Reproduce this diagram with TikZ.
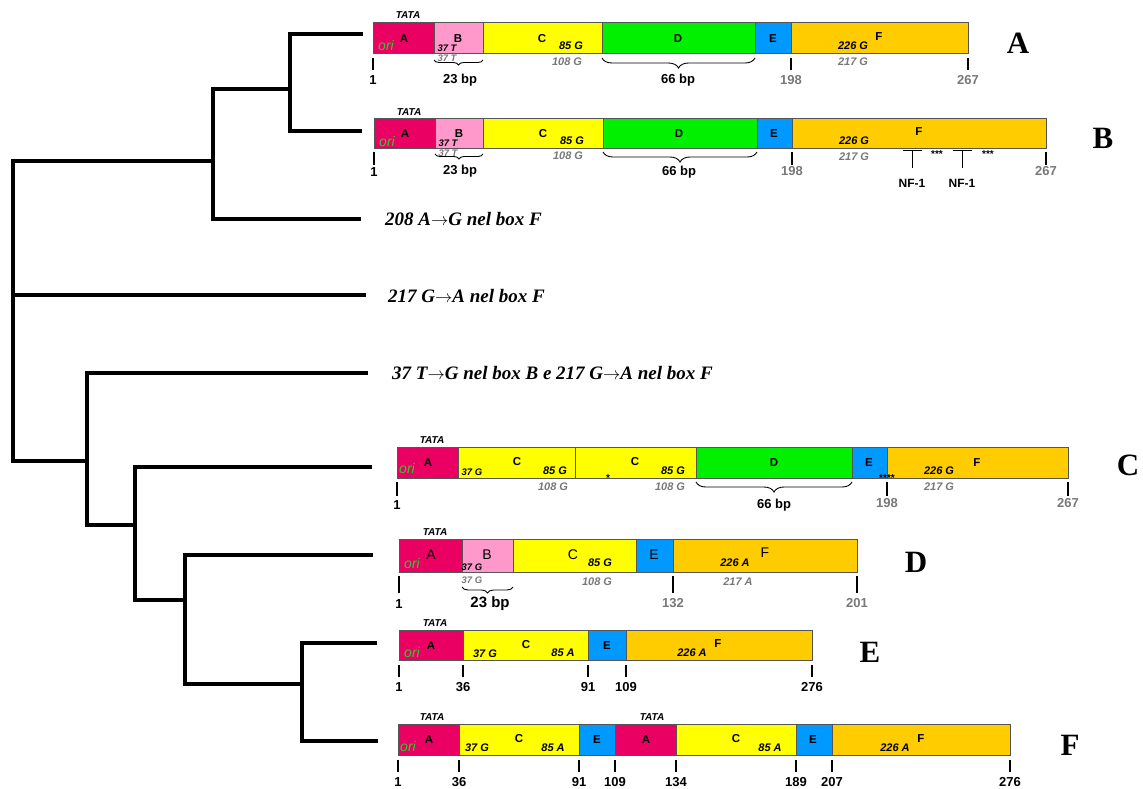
\documentclass[tikz,border=0pt]{standalone}
\usepackage{fontspec}
\setmainfont{Liberation Serif}
\newfontfamily\ar{Liberation Sans}
\usetikzlibrary{decorations.pathreplacing}
\definecolor{cA}{RGB}{234,0,98}
\definecolor{cB}{RGB}{255,153,204}
\definecolor{cC}{RGB}{255,255,0}
\definecolor{cD}{RGB}{0,240,0}
\definecolor{cE}{RGB}{0,153,255}
\definecolor{cF}{RGB}{255,204,0}
\definecolor{cori}{RGB}{45,205,45}
\definecolor{cgrey}{RGB}{120,120,120}
\definecolor{edge}{RGB}{85,85,85}
\newcommand\arr{\ensuremath{\rightarrow}}
\tikzset{
 seg/.style={draw=edge, line width=0.9pt},
 bl/.style={font=\ar\bfseries\fontsize{11.5}{12}\selectfont, inner sep=0pt},
 rl/.style={font=\ar\fontsize{14}{15}\selectfont, inner sep=0pt},
 bi/.style={font=\ar\bfseries\itshape\fontsize{11}{12}\selectfont, inner sep=0pt},
 gi/.style={bi, text=cgrey},
 sbi/.style={font=\ar\bfseries\itshape\fontsize{9.5}{10}\selectfont, inner sep=0pt},
 sgi/.style={sbi, text=cgrey},
 tata/.style={font=\ar\bfseries\itshape\fontsize{10}{11}\selectfont, inner sep=0pt},
 ori/.style={font=\ar\itshape\fontsize{14}{15}\selectfont, text=cori, inner sep=0pt},
 tk/.style={line width=1.8pt},
 posl/.style={font=\ar\bfseries\fontsize{13}{14}\selectfont, inner sep=0pt},
 gposl/.style={posl, text=cgrey},
 stars/.style={font=\ar\bfseries\fontsize{10}{11}\selectfont, inner sep=0pt},
 nfl/.style={font=\ar\bfseries\fontsize{12}{13}\selectfont, inner sep=0pt},
 big/.style={font=\bfseries\fontsize{31}{33}\selectfont, inner sep=0pt},
 mut/.style={font=\bfseries\itshape\fontsize{19}{21}\selectfont, inner sep=0pt, anchor=west},
 treeln/.style={line width=4pt, line join=miter},
 brc/.style={decorate, decoration={brace, mirror, amplitude=#1}, line width=0.9pt},
 nf/.style={line width=1pt}
}
\begin{document}
\begin{tikzpicture}[x=1pt,y=-1pt]
\useasboundingbox (0,0) rectangle (1143,788);
% ---------- tree ----------
\coordinate (lA) at (363,34);
\coordinate (lB) at (362,131);
\coordinate (l208) at (361,219);
\coordinate (l217) at (366,295);
\coordinate (l37) at (368,373);
\coordinate (lC) at (372,467);
\coordinate (lD) at (373,555);
\coordinate (lE) at (377,643);
\coordinate (lF) at (378,741);
\coordinate (nAB) at (290,89);
\coordinate (nABx) at (213,161);
\coordinate (root) at (13,300);
\coordinate (n37) at (87,461);
\coordinate (nC) at (135,525);
\coordinate (nD) at (185,600);
\coordinate (nEF) at (302,684);
\draw[treeln] (lA) -- (lA -| nAB) -- (lB -| nAB) -- (lB);
\draw[treeln] (nAB) -- (nAB -| nABx) -- (l208 -| nABx) -- (l208);
\draw[treeln] (nABx) -- (nABx -| root) -- (n37 -| root) -- (n37);
\draw[treeln] (l217 -| root) -- (l217);
\draw[treeln] (l37) -- (l37 -| n37) -- (nC -| n37) -- (nC);
\draw[treeln] (lC) -- (lC -| nC) -- (nD -| nC) -- (nD);
\draw[treeln] (lD) -- (lD -| nD) -- (nEF -| nD) -- (nEF);
\draw[treeln] (lE) -- (lE -| nEF) -- (lF -| nEF) -- (lF);
% ---------- mutation texts ----------
\node[mut] (m1) at (385,219) {208 A\arr G nel box F};
\node[mut] (m2) at (388,296) {217 G\arr A nel box F};
\node[mut] (m3) at (392,373) {37 T\arr G nel box B e 217 G\arr A nel box F};
% ---------- map A ----------
\draw[seg, fill=cA] (373,22) rectangle (434,53);
\draw[seg, fill=cB] (434,22) rectangle (483,53);
\draw[seg, fill=cC] (483,22) rectangle (602,53);
\draw[seg, fill=cD] (602,22) rectangle (755,53);
\draw[seg, fill=cE] (755,22) rectangle (791,53);
\draw[seg, fill=cF] (791,22) rectangle (968,53);
\node[tata] (aT) at (408,15) {TATA};
\node[ori] (aO) at (386,45) {ori};
\node[bl] (aA) at (404,39) {A};
\node[bl] (aB) at (458,39) {B};
\node[sbi] (a37) at (447,48) {37 T};
\node[sgi] (a37g) at (447,58) {37 T};
\node[bl] (aC) at (542,39) {C};
\node[bi] (a85) at (571,46) {85 G};
\node[gi] (a108) at (567,62) {108 G};
\node[bl] (aD) at (678,39) {D};
\node[bl] (aE) at (773,39) {E};
\node[bi] (a226) at (853,46) {226 G};
\node[bl] (aF) at (879,37) {F};
\node[gi] (a217) at (853,62) {217 G};
\draw[tk] (373,58) -- (373,70);
\draw[tk] (791,58) -- (791,70);
\draw[tk] (968,58) -- (968,70);
\node[posl] (a1) at (373,80) {1};
\node[gposl] (a198) at (791,80) {198};
\node[gposl] (a267) at (968,80) {267};
\draw[brc=5pt] (434,60) -- (483,60);
\node[posl] (a23) at (460,80) {23 bp};
\draw[brc=10pt] (602,58) -- (755,58);
\node[posl] (a66) at (678,80) {66 bp};
\node[big] (lblA) at (1018,43) {A};
% ---------- map B ----------
\draw[seg, fill=cA] (374,118) rectangle (435,148);
\draw[seg, fill=cB] (435,118) rectangle (483,148);
\draw[seg, fill=cC] (483,118) rectangle (603,148);
\draw[seg, fill=cD] (603,118) rectangle (757,148);
\draw[seg, fill=cE] (757,118) rectangle (792,148);
\draw[seg, fill=cF] (792,118) rectangle (1046,148);
\node[tata] (bT) at (409,112) {TATA};
\node[ori] (bO) at (387,141) {ori};
\node[bl] (bA) at (405,134) {A};
\node[bl] (bB) at (459,134) {B};
\node[sbi] (b37) at (448,143) {37 T};
\node[sgi] (b37g) at (448,153) {37 T};
\node[bl] (bC) at (543,134) {C};
\node[bi] (b85) at (572,141) {85 G};
\node[gi] (b108) at (568,156) {108 G};
\node[bl] (bD) at (679,134) {D};
\node[bl] (bE) at (774,134) {E};
\node[bi] (b226) at (854,141) {226 G};
\node[bl] (bF) at (919,132) {F};
\node[gi] (b217) at (854,157) {217 G};
\draw[tk] (374,152) -- (374,165);
\draw[tk] (792,152) -- (792,165);
\draw[tk] (1046,152) -- (1046,165);
\node[posl] (b1) at (374,172) {1};
\node[gposl] (b198) at (792,171) {198};
\node[gposl] (b267) at (1046,171) {267};
\draw[brc=5pt] (435,154) -- (483,154);
\node[posl] (b23) at (460,171) {23 bp};
\draw[brc=10pt] (603,152) -- (757,152);
\node[posl] (b66) at (679,172) {66 bp};
\draw[nf] (903,150) -- (922,150) (912,150) -- (912,168);
\draw[nf] (953,150) -- (972,150) (962,150) -- (962,168);
\node[nfl] (bnf1) at (912,183) {NF-1};
\node[nfl] (bnf2) at (962,183) {NF-1};
\node[stars] (bs1) at (937,154) {***};
\node[stars] (bs2) at (988,154) {***};
\node[big] (lblB) at (1103,138) {B};
% ---------- map C ----------
\draw[seg, fill=cA] (397,447) rectangle (458,478);
\draw[seg, fill=cC] (458,447) rectangle (575,478);
\draw[seg, fill=cC] (575,447) rectangle (696,478);
\draw[seg, fill=cD] (696,447) rectangle (852,478);
\draw[seg, fill=cE] (852,447) rectangle (887,478);
\draw[seg, fill=cF] (887,447) rectangle (1068,478);
\node[tata] (cT) at (432,440) {TATA};
\node[ori] (cO) at (407,468) {ori};
\node[bl] (cA1) at (428,463) {A};
\node[sbi] (c37) at (472,472) {37 G};
\node[bl] (cC1) at (517,462) {C};
\node[bi] (c851) at (555,471) {85 G};
\node[gi] (c1081) at (553,487) {108 G};
\node[bl] (cC2) at (635,462) {C};
\node[stars] (cs1) at (608,478) {*};
\node[bi] (c852) at (673,471) {85 G};
\node[gi] (c1082) at (670,487) {108 G};
\node[bl] (cD) at (774,463) {D};
\node[bl] (cE) at (869,463) {E};
\node[stars] (cs4) at (887,478) {****};
\node[bi] (c226) at (939,471) {226 G};
\node[bl] (cF) at (977,463) {F};
\node[gi] (c217) at (939,487) {217 G};
\draw[tk] (397,482) -- (397,496);
\draw[tk] (887,482) -- (887,496);
\draw[tk] (1068,482) -- (1068,496);
\node[posl] (c1) at (397,505) {1};
\node[gposl] (c198) at (887,503) {198};
\node[gposl] (c267) at (1068,503) {267};
\draw[brc=10pt] (696,482) -- (852,482);
\node[posl] (c66) at (774,505) {66 bp};
\node[big] (lblC) at (1128,465) {C};
% ---------- map D ----------
\draw[seg, fill=cA] (399,539) rectangle (462,572);
\draw[seg, fill=cB] (462,539) rectangle (513,572);
\draw[seg, fill=cC] (513,539) rectangle (636,572);
\draw[seg, fill=cE] (636,539) rectangle (673,572);
\draw[seg, fill=cF] (673,539) rectangle (857,572);
\node[tata] (dT) at (435,532) {TATA};
\node[ori] (dO) at (412,563) {ori};
\node[rl] (dA) at (431,555) {A};
\node[rl] (dB) at (487,555) {B};
\node[sbi] (d37) at (472,567) {37 G};
\node[sgi] (d37g) at (472,580) {37 G};
\node[rl] (dC) at (573,555) {C};
\node[bi] (d85) at (600,563) {85 G};
\node[gi] (d108) at (597,582) {108 G};
\node[rl] (dE) at (654,555) {E};
\node[bi] (d226) at (735,563) {226 A};
\node[rl] (dF) at (765,553) {F};
\node[gi] (d217) at (738,582) {217 A};
\draw[tk] (399,576) -- (399,593);
\draw[tk] (673,576) -- (673,593);
\draw[tk] (857,576) -- (857,593);
\node[posl] (d1) at (399,604) {1};
\node[gposl] (d132) at (673,603) {132};
\node[gposl] (d201) at (857,603) {201};
\draw[brc=6pt] (462,587) -- (513,587);
\node[posl, font=\ar\bfseries\fontsize{15}{16}\selectfont] (d23) at (490,604) {23 bp};
\node[big] (lblD) at (916,562) {D};
% ---------- map E ----------
\draw[seg, fill=cA] (399,630) rectangle (463,660);
\draw[seg, fill=cC] (463,630) rectangle (588,660);
\draw[seg, fill=cE] (588,630) rectangle (626,660);
\draw[seg, fill=cF] (626,630) rectangle (812,660);
\node[tata] (eT) at (435,623) {TATA};
\node[ori] (eO) at (412,652) {ori};
\node[bl] (eA) at (431,646) {A};
\node[bi] (e37) at (485,654) {37 G};
\node[bl] (eC) at (526,645) {C};
\node[bi] (e85) at (563,653) {85 A};
\node[bl] (eE) at (607,646) {E};
\node[bi] (e226) at (692,653) {226 A};
\node[bl] (eF) at (718,644) {F};
\foreach \x/\t in {399/1,463/36,588/91,626/109,812/276}{
  \draw[tk] (\x,665) -- (\x,677);
  \node[posl] (e\t) at (\x,687) {\t};
}
\node[big] (lblE) at (870,652) {E};
% ---------- map F ----------
\draw[seg, fill=cA] (398,724) rectangle (459,755);
\draw[seg, fill=cC] (459,724) rectangle (579,755);
\draw[seg, fill=cE] (579,724) rectangle (615,755);
\draw[seg, fill=cA] (615,724) rectangle (676,755);
\draw[seg, fill=cC] (676,724) rectangle (796,755);
\draw[seg, fill=cE] (796,724) rectangle (832,755);
\draw[seg, fill=cF] (832,724) rectangle (1010,755);
\node[tata] (fT1) at (432,717) {TATA};
\node[tata] (fT2) at (652,717) {TATA};
\node[ori] (fO) at (408,746) {ori};
\node[bl] (fA1) at (429,740) {A};
\node[bi] (f37) at (477,748) {37 G};
\node[bl] (fC1) at (519,739) {C};
\node[bi] (f851) at (553,748) {85 A};
\node[bl] (fE1) at (597,740) {E};
\node[bl] (fA2) at (646,740) {A};
\node[bl] (fC2) at (736,739) {C};
\node[bi] (f852) at (770,748) {85 A};
\node[bl] (fE2) at (813,740) {E};
\node[bi] (f226) at (895,748) {226 A};
\node[bl] (fF) at (921,739) {F};
\foreach \x/\t in {398/1,459/36,579/91,615/109,676/134,796/189,832/207,1010/276}{
  \draw[tk] (\x,760) -- (\x,772);
  \node[posl] (f\t) at (\x,782) {\t};
}
\node[big] (lblF) at (1070,745) {F};
\end{tikzpicture}
\end{document}
